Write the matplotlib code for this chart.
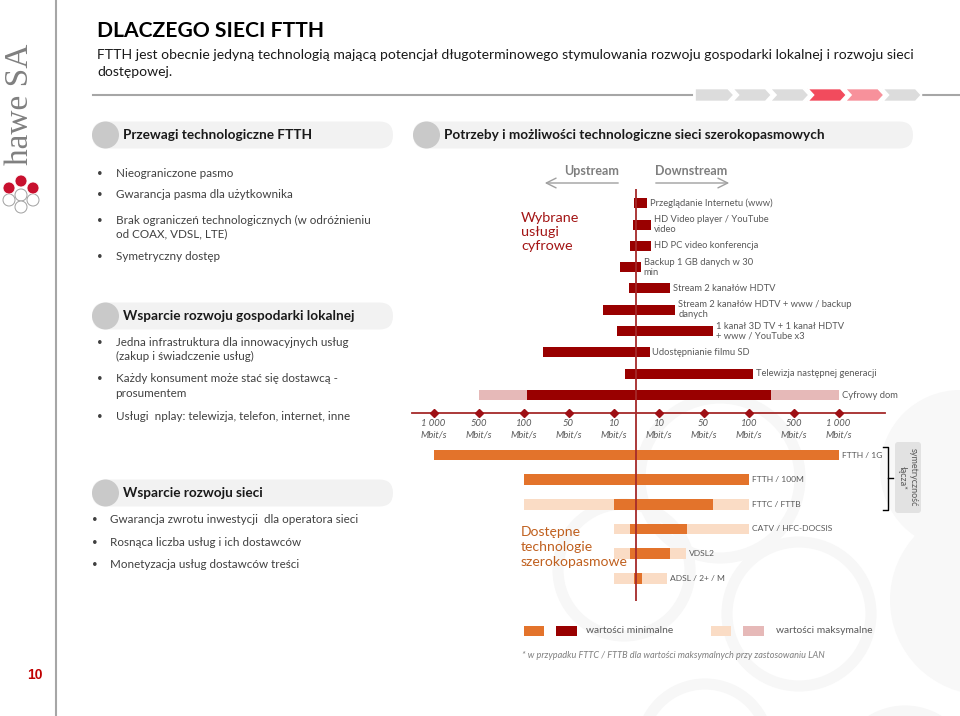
import numpy as np
import matplotlib
matplotlib.use("Agg")
import matplotlib.pyplot as plt
from matplotlib.patches import FancyBboxPatch, Circle, Polygon, Rectangle

plt.rcParams['font.family'] = ['Lato', 'DejaVu Sans']

# ---------------- data ----------------
services = [
    "Przeglądanie Internetu (www)",
    "HD Video player / YouTube\nvideo",
    "HD PC video konferencja",
    "Backup 1 GB danych w 30\nmin",
    "Stream 2 kanałów HDTV",
    "Stream 2 kanałów HDTV + www / backup\ndanych",
    "1 kanał 3D TV + 1 kanał HDTV\n+ www / YouTube x3",
    "Udostępnianie filmu SD",
    "Telewizja następnej generacji",
    "Cyfrowy dom",
]
service_up_min = [1.0, 1.2, 2.5, 7.0, 3.0, 19.0, 8.5, 78.0, 5.0, 96.0]
service_down_min = [4.7, 6.6, 6.6, 2.0, 20.0, 25.0, 60.0, 6.0, 140.0, 300.0]
service_up_max = [np.nan] * 9 + [500.0]
service_down_max = [np.nan] * 9 + [1000.0]

technologies = ["FTTH / 1G", "FTTH / 100M", "FTTC / FTTB", "CATV / HFC-DOCSIS", "VDSL2", "ADSL / 2+ / M"]
tech_up_min = [1000.0, 100.0, 10.0, 2.5, 2.5, 0.75]
tech_down_min = [1000.0, 100.0, 60.0, 35.0, 20.0, 2.8]
tech_up_max = [np.nan, np.nan, 100.0, 10.0, 10.0, 10.0]
tech_down_max = [np.nan, np.nan, 100.0, 100.0, 34.0, 17.5]

tick_values = [10, 50, 100, 500, 1000]
tick_texts = ["10", "50", "100", "500", "1 000"]

# scale: ticks evenly spaced, 10 Mbit/s at half a step
SCALE_VALS = [0, 10, 50, 100, 500, 1000, 3000]
SCALE_POS = [0, 0.5, 1.5, 2.5, 3.5, 4.5, 8.5]


def fwd(x):
    x = np.asarray(x, dtype=float)
    return np.sign(x) * np.interp(np.abs(x), SCALE_VALS, SCALE_POS)


def inv(u):
    u = np.asarray(u, dtype=float)
    return np.sign(u) * np.interp(np.abs(u), SCALE_POS, SCALE_VALS)


# ---------------- colours ----------------
C_DARK = '#990000'
C_PINK = '#e6b9b8'
C_ORANGE = '#e3732b'
C_LORANGE = '#fadcc5'
C_AXIS = '#a52a2a'
C_TXT = '#404040'
C_LBL = '#595959'

W, H = 960, 716
fig = plt.figure(figsize=(W / 100, H / 100), dpi=100)


def frect(x0, y0, x1, y1):
    return [x0 / W, 1 - y1 / H, (x1 - x0) / W, (y1 - y0) / H]


bg = fig.add_axes([0, 0, 1, 1], zorder=0)
bg.set_xlim(0, W)
bg.set_ylim(H, 0)
bg.axis('off')

# faint watermark rings
for (cx, cy, r) in [(624, 570, 66), (799, 614, 72), (705, 748, 64), (905, 775, 64), (720, 478, 80)]:
    bg.add_patch(Circle((cx, cy), r, fill=False, ec='#f7f7f7', lw=8, zorder=0.2))
for (cx, cy, r) in [(985, 600, 95), (960, 470, 80)]:
    bg.add_patch(Circle((cx, cy), r, fc='#f8f8f8', ec='none', zorder=0.1))

# left vertical rule, logo, page number
bg.plot([56, 56], [0, H], color='#a6a6a6', lw=1.5, zorder=1)
bg.text(20, 104, "hawe SA", rotation=90, ha='center', va='center', fontsize=24,
        family='Liberation Serif', color='#808080')
for (cx, cy) in [(21, 181), (9, 188), (33, 188)]:
    bg.add_patch(Circle((cx, cy), 6, fc='#c8102e', ec='white', lw=0.6, zorder=3))
for (cx, cy) in [(9, 200), (33, 200), (21, 195), (21, 207)]:
    bg.add_patch(Circle((cx, cy), 6, fc='white', ec='#a0a0a0', lw=0.7, zorder=2))
bg.text(35, 675, "10", ha='center', va='center', fontsize=10, fontweight='bold',
        family='Liberation Sans', color='#c00000')

# title
bg.text(97, 31, "DLACZEGO SIECI FTTH", fontsize=15.2, fontweight='bold', color='black', va='center')
bg.text(97, 55, "FTTH jest obecnie jedyną technologią mającą potencjał długoterminowego stymulowania "
        "rozwoju gospodarki lokalnej i rozwoju sieci", fontsize=10.1, color='#1a1a1a', va='center')
bg.text(97, 72, "dostępowej.", fontsize=10.1, color='#1a1a1a', va='center')
bg.plot([93, 692], [95, 95], color='#a6a6a6', lw=1.5)
bg.plot([923, 960], [95, 95], color='#a6a6a6', lw=1.5)
chev_cols = ['#dcdcdc', '#dcdcdc', '#dcdcdc', '#f24b5d', '#f7919b', '#dcdcdc']
for i, c in enumerate(chev_cols):
    x0 = 695 + 37.5 * i
    x1 = x0 + 39
    d = 6
    pts = [(x0, 88.5), (x1 - d, 88.5), (x1, 95), (x1 - d, 101.5), (x0, 101.5)]
    if i > 0:
        pts.append((x0 + d, 95))
    bg.add_patch(Polygon(pts, closed=True, fc=c, ec='white', lw=1.2, zorder=2))


# section headers
def pill(x0, x1, yc, text):
    bg.add_patch(FancyBboxPatch((x0, yc - 13.5), x1 - x0, 27,
                                boxstyle="round,pad=0,rounding_size=13.5",
                                fc='#f2f2f2', ec='none', zorder=1))
    bg.add_patch(Circle((x0 + 13.5, yc), 13.5, fc='#c9c9c9', ec='none', zorder=2))
    bg.text(x0 + 31, yc, text, fontsize=9.8, fontweight='bold', color='#1a1a1a', va='center', zorder=3)


pill(92, 393, 135, "Przewagi technologiczne FTTH")
pill(413, 913, 135, "Potrzeby i możliwości technologiczne sieci szerokopasmowych")
pill(92, 393, 316, "Wsparcie rozwoju gospodarki lokalnej")
pill(92, 393, 493, "Wsparcie rozwoju sieci")

# bullets
col1 = [
    (173.3, "Nieograniczone pasmo", True),
    (195, "Gwarancja pasma dla użytkownika", True),
    (220, "Brak ograniczeń technologicznych (w odróżnieniu", True),
    (234, "od COAX, VDSL, LTE)", False),
    (257, "Symetryczny dostęp", True),
    (342.3, "Jedna infrastruktura dla innowacyjnych usług", True),
    (356.7, "(zakup i świadczenie usług)", False),
    (379, "Każdy konsument może stać się dostawcą -", True),
    (393.3, "prosumentem", False),
    (416.7, "Usługi  nplay: telewizja, telefon, internet, inne", True),
]
for y, t, b in col1:
    if b:
        bg.text(100, y, "•", fontsize=7, color=C_TXT, va='center', ha='center')
    bg.text(115.5, y, t, fontsize=8.35, color=C_TXT, va='center')
col3 = [
    (519.3, "Gwarancja zwrotu inwestycji  dla operatora sieci"),
    (542, "Rosnąca liczba usług i ich dostawców"),
    (565, "Monetyzacja usług dostawców treści"),
]
for y, t in col3:
    bg.text(95, y, "•", fontsize=7, color=C_TXT, va='center', ha='center')
    bg.text(110.5, y, t, fontsize=8.35, color=C_TXT, va='center')

# upstream / downstream
bg.text(592, 171, "Upstream", fontsize=9, fontweight='bold', color='#7f7f7f', ha='center', va='center')
bg.text(691, 171, "Downstream", fontsize=9, fontweight='bold', color='#7f7f7f', ha='center', va='center')
aprops = dict(arrowstyle='->,head_length=0.7,head_width=0.35', color='#a0a0a0', lw=1)
bg.annotate('', xy=(542, 183), xytext=(621, 183), arrowprops=aprops)
bg.annotate('', xy=(732, 183), xytext=(653, 183), arrowprops=aprops)

bg.text(521, 232, "Wybrane\nusługi\ncyfrowe", fontsize=10.4, color='#a31515', va='center', linespacing=1.25)
bg.text(521, 547, "Dostępne\ntechnologie\nszerokopasmowe", fontsize=10.1, color='#c0601f', va='center',
        linespacing=1.25)

# ---------------- chart axes ----------------
CX = 636.0
UNIT = 45.0
ax_u = fig.add_axes(frect(412, 189, 885, 413), zorder=2)
ax_l = fig.add_axes(frect(412, 413, 885, 601), zorder=2)
for ax in (ax_u, ax_l):
    ax.set_xscale('function', functions=(fwd, inv))
    ax.set_xlim(float(inv((412 - CX) / UNIT)), float(inv((885 - CX) / UNIT)))
    ax.patch.set_alpha(0)
    for s in ax.spines.values():
        s.set_visible(False)
    ax.set_yticks([])
    ax.axvline(0, color=C_AXIS, lw=1.3, zorder=6)

ROW_U = 21.3
ax_u.set_ylim((413 - 203.3) / ROW_U, -(203.3 - 189) / ROW_U)
ROW_L = 24.65
ax_l.set_ylim((601 - 455) / ROW_L, -(455 - 413) / ROW_L)
ax_l.set_xticks([])

hu = 10 / ROW_U
hl = 10.5 / ROW_L

rows_u = np.arange(len(services))
up_max = np.array(service_up_max)
dn_max = np.array(service_down_max)
m = ~np.isnan(up_max)
ax_u.barh(rows_u[m], up_max[m] + dn_max[m], left=-up_max[m], height=hu, color=C_PINK, zorder=2)
ax_u.barh(rows_u, np.array(service_up_min) + np.array(service_down_min), left=-np.array(service_up_min),
          height=hu, color=C_DARK, zorder=3)
for i, name in enumerate(services):
    end = service_down_max[i] if not np.isnan(service_down_max[i]) else service_down_min[i]
    ax_u.annotate(name, xy=(end, i), xytext=(3, 0), textcoords='offset pixels', ha='left', va='center',
                  fontsize=6.75, color=C_LBL, linespacing=1.15)

rows_l = np.arange(len(technologies))
tu = np.array(tech_up_max)
td = np.array(tech_down_max)
m = ~np.isnan(tu)
ax_l.barh(rows_l[m], tu[m] + td[m], left=-tu[m], height=hl, color=C_LORANGE, zorder=2)
ax_l.barh(rows_l, np.array(tech_up_min) + np.array(tech_down_min), left=-np.array(tech_up_min),
          height=hl, color=C_ORANGE, zorder=3)
for i, name in enumerate(technologies):
    end = tech_down_max[i] if not np.isnan(tech_down_max[i]) else tech_down_min[i]
    ax_l.annotate(name, xy=(end, i), xytext=(3, 0), textcoords='offset pixels', ha='left', va='center',
                  fontsize=6.1, color=C_LBL)

# axis with diamonds
ax_u.spines['bottom'].set_visible(True)
ax_u.spines['bottom'].set_color(C_AXIS)
ax_u.spines['bottom'].set_linewidth(1.3)
ticks = [-v for v in tick_values[::-1]] + tick_values
labels = [t + "\nMbit/s" for t in tick_texts[::-1]] + [t + "\nMbit/s" for t in tick_texts]
ax_u.set_xticks(ticks)
ax_u.set_xticklabels(labels)
ax_u.xaxis.set_minor_locator(matplotlib.ticker.NullLocator())
ax_u.tick_params(axis='x', length=0, pad=4.5, labelsize=6.8, labelcolor=C_LBL)
for lab in ax_u.get_xticklabels():
    lab.set_fontstyle('italic')
    lab.set_linespacing(1.25)
ax_u.plot(ticks, [0] * len(ticks), transform=ax_u.get_xaxis_transform(), marker='D', ms=4.3,
          ls='none', color='#9e1015', clip_on=False, zorder=7)

# symmetric bracket and box
bg.plot([883, 888, 888, 883], [447, 447, 510, 510], color='black', lw=1)
bg.plot([888, 893], [478, 478], color='black', lw=1)
bg.add_patch(FancyBboxPatch((895, 442), 26, 71, boxstyle="round,pad=0,rounding_size=3",
                            fc='#e2e2e2', ec='none', zorder=1))
bg.text(908, 477.5, "symetryczność\nłącza*", rotation=-90, ha='center', va='center', fontsize=6.5,
        color=C_LBL, linespacing=1.3, zorder=2)

# legend
bg.add_patch(Rectangle((524, 625.5), 20, 10, fc=C_ORANGE, ec='none'))
bg.add_patch(Rectangle((556, 625.5), 20.5, 10, fc=C_DARK, ec='none'))
bg.text(586, 630.5, "wartości minimalne", fontsize=7.4, color=C_LBL, va='center')
bg.add_patch(Rectangle((711, 625.5), 20, 10, fc=C_LORANGE, ec='none'))
bg.add_patch(Rectangle((743, 625.5), 20.5, 10, fc=C_PINK, ec='none'))
bg.text(775.5, 630.5, "wartości maksymalne", fontsize=7.4, color=C_LBL, va='center')
bg.text(522.5, 655.5, "* w przypadku FTTC / FTTB dla wartości maksymalnych przy zastosowaniu LAN",
        fontsize=6.6, style='italic', color='#7f7f7f', va='center')

fig.savefig("out.png", dpi=100)
